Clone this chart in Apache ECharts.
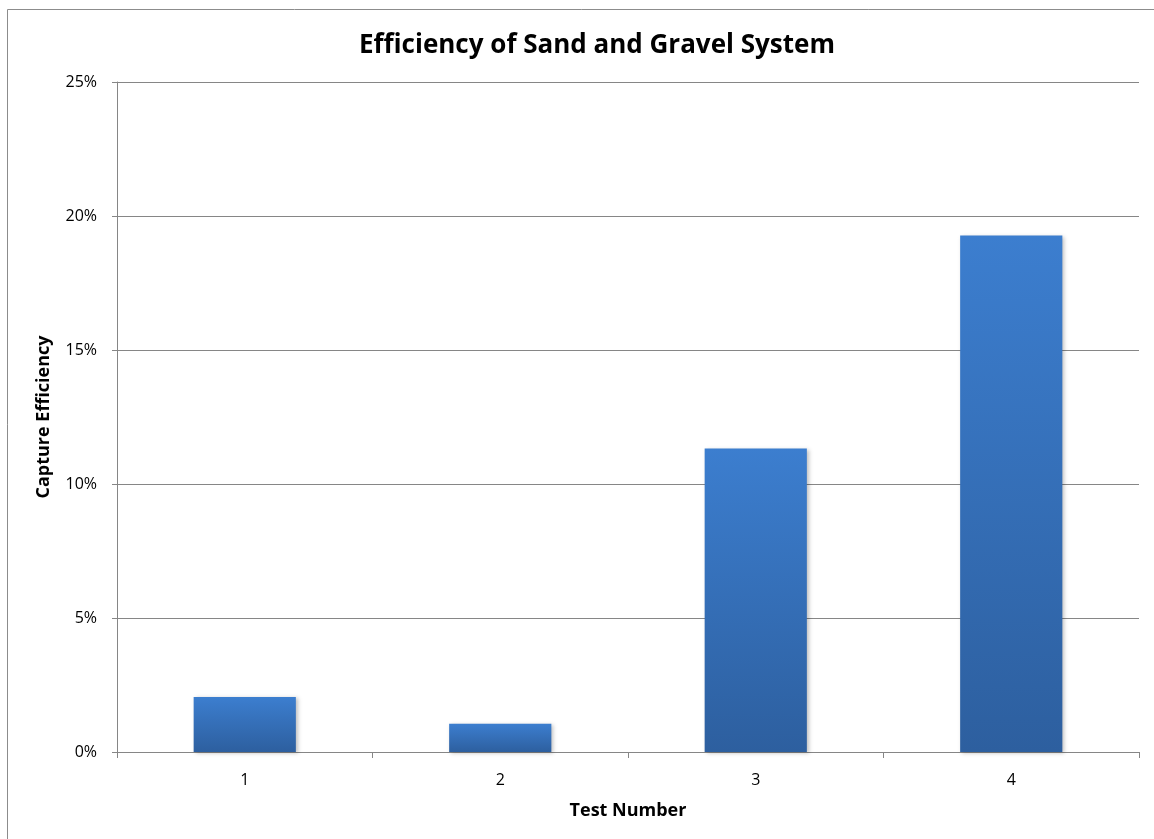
<!DOCTYPE html>
<html>
<head>
<meta charset="utf-8">
<title>Efficiency of Sand and Gravel System</title>
<script src="https://cdn.jsdelivr.net/npm/echarts@6/dist/echarts.min.js"></script>
<style>
  html, body { margin: 0; padding: 0; background: #ffffff; }
  #chart { width: 1154px; height: 839px; }
</style>
</head>
<body>
<div id="chart"></div>
<script>
// Test numbers and measured capture efficiency (percent)
const testNumbers = ['1', '2', '3', '4'];
const captureEfficiency = [2.05, 1.05, 11.32, 19.27];
const yTicks = [0, 5, 10, 15, 20, 25];

const FONT = '"Open Sans", "Liberation Sans", sans-serif';

const chart = echarts.init(document.getElementById('chart'), null, { renderer: 'canvas' });

chart.setOption({
  backgroundColor: '#ffffff',
  animation: false,
  title: {
    text: 'Efficiency of Sand and Gravel System',
    left: 354,
    top: 28,
    textStyle: { fontFamily: FONT, fontWeight: 'bold', fontSize: 26, color: '#000000' }
  },
  graphic: [{
    type: 'rect',
    shape: { x: 7.5, y: 9.5, width: 1170, height: 860 },
    style: { fill: 'none', stroke: '#8c8c8c', lineWidth: 1 },
    silent: true
  }],
  grid: { left: 117, right: 15, top: 82, bottom: 87 },
  xAxis: {
    type: 'category',
    data: testNumbers,
    name: 'Test Number',
    nameLocation: 'middle',
    nameGap: 50,
    nameTextStyle: { fontFamily: FONT, fontWeight: 'bold', fontSize: 18, color: '#000000' },
    axisLine: { lineStyle: { color: '#868686', width: 1 } },
    axisTick: { show: true, length: 6, lineStyle: { color: '#868686' } },
    axisLabel: { fontFamily: FONT, fontSize: 16, color: '#000000', margin: 20 }
  },
  yAxis: {
    type: 'value',
    min: yTicks[0],
    max: yTicks[yTicks.length - 1],
    interval: 5,
    name: 'Capture Efficiency',
    nameLocation: 'middle',
    nameGap: 64,
    nameTextStyle: { fontFamily: FONT, fontWeight: 'bold', fontSize: 18, color: '#000000' },
    axisLine: { show: true, lineStyle: { color: '#868686', width: 1 } },
    axisTick: { show: true, length: 5, lineStyle: { color: '#868686' } },
    axisLabel: { fontFamily: FONT, fontSize: 16, color: '#000000', margin: 20, formatter: '{value}%' },
    splitLine: { show: true, lineStyle: { color: '#868686', width: 1 } }
  },
  series: [{
    type: 'bar',
    data: captureEfficiency,
    barWidth: '40%',
    itemStyle: {
      color: new echarts.graphic.LinearGradient(0, 0, 0, 1, [
        { offset: 0, color: '#3c7ecf' },
        { offset: 1, color: '#2d5f9f' }
      ]),
      shadowColor: 'rgba(0,0,0,0.25)',
      shadowBlur: 4,
      shadowOffsetX: 2,
      shadowOffsetY: 1
    }
  }]
});
</script>
</body>
</html>
